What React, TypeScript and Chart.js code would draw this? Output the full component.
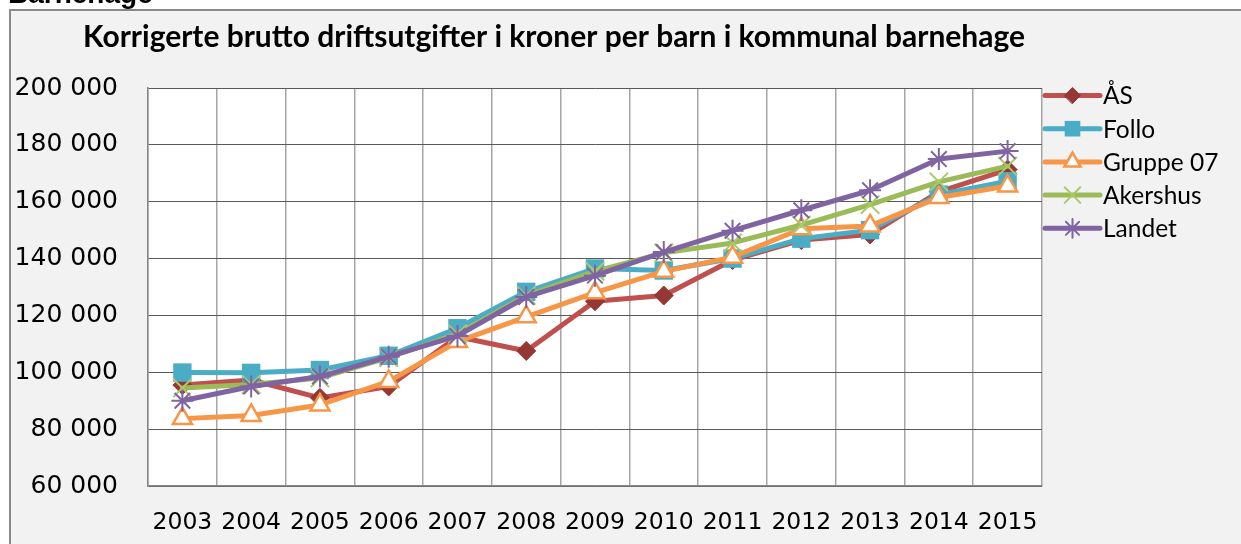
import React, { useEffect, useRef } from "react";
import { Chart, registerables } from "chart.js";
import { drawPoint } from "chart.js/helpers";

Chart.register(...registerables);

const years = ["2003", "2004", "2005", "2006", "2007", "2008", "2009", "2010", "2011", "2012", "2013", "2014", "2015"];
const asValues = [95500, 97300, 91000, 95000, 112500, 107500, 125000, 127000, 139500, 146500, 148500, 163500, 171300];
const folloValues = [99900, 99800, 100800, 105800, 115500, 128300, 136500, 135800, 140000, 147000, 150000, 162500, 167200];
const gruppeValues = [83700, 84800, 88500, 96800, 110800, 119500, 128000, 135500, 140500, 150500, 151500, 161500, 165500];
const akershusValues = [94500, 95700, 98000, 105200, 113500, 127000, 135500, 142000, 145500, 151800, 159000, 167000, 172500];
const landetValues = [90000, 95000, 98500, 105500, 112800, 126500, 134000, 142300, 149800, 157000, 164000, 175000, 177800];
const seriesNames = ["ÅS", "Follo", "Gruppe 07", "Akershus", "Landet"];
const yMin = 60000;
const yMax = 200000;
const yStep = 20000;
const titleText = "Korrigerte brutto driftsutgifter i kroner per barn i kommunal barnehage";
const headerText = "Barnehage";

const fmt = (v: number) => String(v).replace(/\B(?=(\d{3})+(?!\d))/g, " ");

export default function App() {
  const ref = useRef<HTMLCanvasElement>(null);
  useEffect(() => {
    const canvas = ref.current!;
    const styles = [
      { line: "#c0504d", pointStyle: "rectRot", radius: 9.5, bg: "#953735", border: "#953735", bw: 1 },
      { line: "#4bacc6", pointStyle: "rect", radius: 13, bg: "#4bacc6", border: "#4bacc6", bw: 0 },
      { line: "#f79646", pointStyle: "triangle", radius: 11, bg: "#ffffff", border: "#f79646", bw: 2.5 },
      { line: "#9bbb59", pointStyle: "crossRot", radius: 13, bg: "#9bbb59", border: "#a9c96b", bw: 2 },
      { line: "#8064a2", pointStyle: "star", radius: 11, bg: "#8064a2", border: "#8064a2", bw: 2 },
    ];
    const values = [asValues, folloValues, gruppeValues, akershusValues, landetValues];
    const datasets = values.map((d, i) => ({
      label: seriesNames[i],
      data: d,
      borderColor: styles[i].line,
      backgroundColor: styles[i].line,
      borderWidth: 5,
      borderCapStyle: "round" as const,
      borderJoinStyle: "round" as const,
      tension: 0,
      pointStyle: styles[i].pointStyle as any,
      pointRadius: styles[i].radius,
      pointBackgroundColor: styles[i].bg,
      pointBorderColor: styles[i].border,
      pointBorderWidth: styles[i].bw,
      order: values.length - 1 - i,
      fill: false,
    }));

    const decor = {
      id: "decor",
      beforeDraw(chart: any) {
        const { ctx, chartArea } = chart;
        ctx.save();
        ctx.fillStyle = "#ffffff";
        ctx.fillRect(chartArea.left, chartArea.top, chartArea.right - chartArea.left, chartArea.bottom - chartArea.top);
        ctx.restore();
      },
      afterDraw(chart: any) {
        const { ctx, chartArea } = chart;
        ctx.save();
        // header
        ctx.fillStyle = "#000";
        ctx.font = "bold 28px 'Liberation Sans', Arial, sans-serif";
        ctx.textAlign = "left";
        ctx.textBaseline = "alphabetic";
        ctx.fillText(headerText, 8, 3);
        // title
        ctx.font = "bold 22px Lato, sans-serif";
        const w = ctx.measureText(titleText).width;
        const size = 22 * 942 / w;
        ctx.font = `bold ${size.toFixed(2)}px Lato, sans-serif`;
        ctx.textAlign = "center";
        ctx.fillText(titleText, 554, 47);
        // legend
        const lx0 = chartArea.right + 3;
        const lx1 = lx0 + 55;
        chart.data.datasets.forEach((ds: any, i: number) => {
          const y = 95.5 + i * 33.2;
          const st = styles[i];
          ctx.strokeStyle = st.line;
          ctx.lineWidth = 5;
          ctx.lineCap = "round";
          ctx.beginPath();
          ctx.moveTo(lx0, y);
          ctx.lineTo(lx1, y);
          ctx.stroke();
          ctx.fillStyle = st.bg;
          ctx.strokeStyle = st.border;
          ctx.lineWidth = st.bw;
          drawPoint(ctx, { pointStyle: st.pointStyle as any, radius: st.radius * 0.85, rotation: 0, borderWidth: st.bw }, (lx0 + lx1) / 2, y);
          ctx.fillStyle = "#000";
          ctx.font = "24.5px Lato, sans-serif";
          ctx.textAlign = "left";
          ctx.textBaseline = "middle";
          ctx.fillText(ds.label, lx1 + 3, y + 1);
        });
        ctx.restore();
      },
    };

    const chart = new Chart(canvas, {
      type: "line",
      data: { labels: years, datasets },
      options: {
        animation: false,
        responsive: false,
        devicePixelRatio: 1,
        layout: { padding: { top: 88, right: 199, bottom: 0, left: 0 } },
        plugins: { legend: { display: false }, title: { display: false }, tooltip: { enabled: false } },
        scales: {
          x: {
            type: "category",
            offset: true,
            grid: { offset: true, color: "#a6a6a6", lineWidth: 1.5, drawTicks: false },
            border: { display: true, color: "#888888", width: 1.5 },
            ticks: { color: "#000", font: { family: "DejaVu Sans", size: 23.5 }, padding: 23, maxRotation: 0, autoSkip: false },
            afterFit: (scale: any) => { scale.height = 58; },
          },
          y: {
            min: yMin,
            max: yMax,
            grid: { color: "#595959", lineWidth: 1, drawTicks: false },
            border: { display: true, color: "#888888", width: 1.5 },
            ticks: { stepSize: yStep, color: "#000", font: { family: "DejaVu Sans", size: 25 }, padding: 30, callback: (v: any) => fmt(Number(v)) },
            afterFit: (scale: any) => { scale.width = 148; },
          },
        },
      },
      plugins: [decor],
    });
    return () => chart.destroy();
  }, []);
  return (
    <div style={{ position: "fixed", left: 0, top: 0, width: 1241, height: 544, background: "#fff", overflow: "hidden" }}>
      <div style={{ position: "absolute", left: 9, top: 9, width: 1241, height: 544, border: "2px solid #8a8a8a", background: "#f2f2f2" }} />
      <canvas ref={ref} width={1241} height={544} style={{ position: "absolute", left: 0, top: 0, width: 1241, height: 544 }} />
    </div>
  );
}
